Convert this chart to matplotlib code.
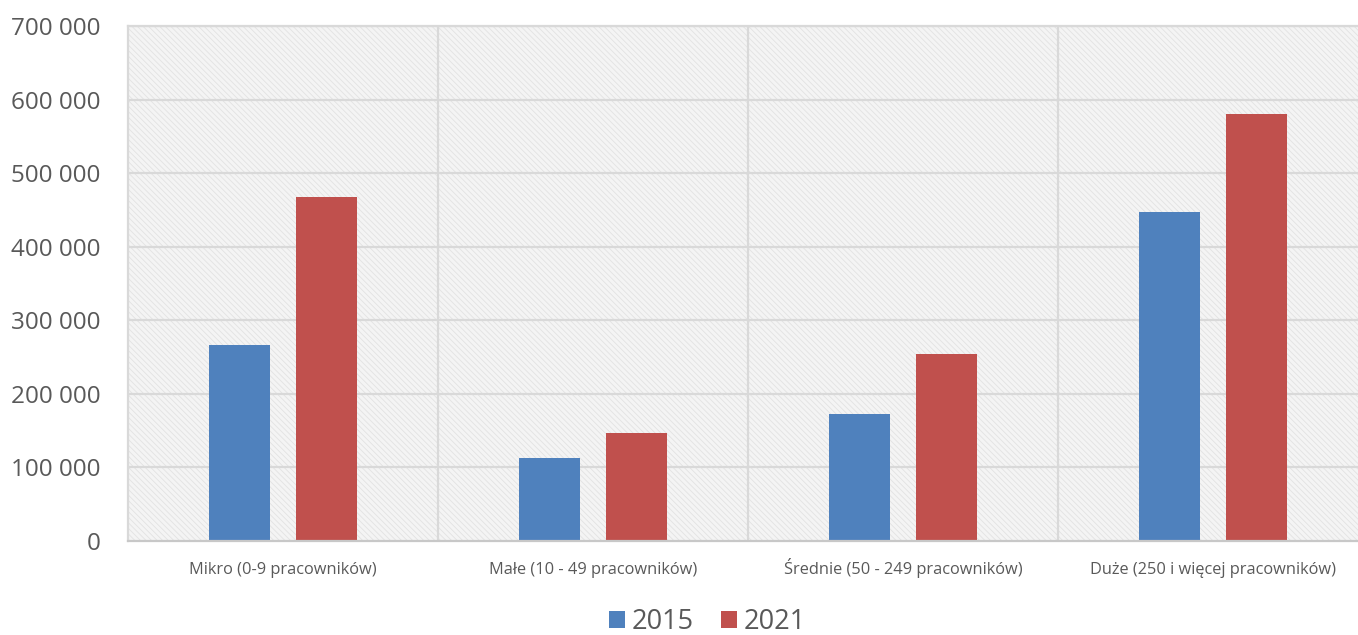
import matplotlib
matplotlib.use("Agg")
import matplotlib.pyplot as plt
from matplotlib.patches import Rectangle
from matplotlib.ticker import FuncFormatter
import numpy as np

categories = [
    "Mikro (0-9 pracowników)",
    "Małe (10 - 49 pracowników)",
    "Średnie (50 - 249 pracowników)",
    "Duże (250 i więcej pracowników)",
]
years = ["2015", "2021"]
values_2015 = [267000, 113000, 173000, 447000]
values_2021 = [467000, 147000, 254000, 580000]
y_ticks = [0, 100000, 200000, 300000, 400000, 500000, 600000, 700000]

blue = "#4f81bd"
red = "#c0504d"
grid_c = "#d9d9d9"
text_c = "#595959"

plt.rcParams["font.family"] = ["Open Sans", "DejaVu Sans"]
plt.rcParams["hatch.color"] = "#e2e2e2"
plt.rcParams["hatch.linewidth"] = 0.6

fig = plt.figure(figsize=(13.58, 6.35), dpi=100)
ax = fig.add_axes([0.0943, 0.148, 0.9131, 0.811])

x = np.arange(len(categories))
w = 0.197
off = 0.14

ax.set_xlim(-0.5, len(categories) - 0.5)
ax.set_ylim(0, 700000)

# hatched plot background
ax.set_facecolor("#f4f4f4")
bg = Rectangle((0, 0), 1, 1, transform=ax.transAxes, facecolor="none",
               edgecolor="#e2e2e2", hatch="\\\\\\\\\\\\", linewidth=0, zorder=0)
ax.add_patch(bg)

# grid
for t in y_ticks[1:]:
    ax.axhline(t, color=grid_c, linewidth=1.6, zorder=1)
for b in np.arange(0.5, len(categories) - 0.5, 1.0):
    ax.axvline(b, color=grid_c, linewidth=1.6, zorder=1)

b1 = ax.bar(x - off, values_2015, width=w, color=blue, label=years[0], zorder=3)
b2 = ax.bar(x + off, values_2021, width=w, color=red, label=years[1], zorder=3)

for side in ["left", "right", "top"]:
    ax.spines[side].set_color(grid_c)
    ax.spines[side].set_linewidth(1.6)
ax.spines["bottom"].set_color("#c8c8c8")
ax.spines["bottom"].set_linewidth(1.6)
ax.spines["bottom"].set_zorder(4)

ax.set_yticks(y_ticks)
ax.yaxis.set_major_formatter(FuncFormatter(lambda v, p: f"{int(v):,}".replace(",", " ")))
ax.tick_params(axis="y", length=0, pad=20, labelsize=17.5, labelcolor=text_c)
ax.set_xticks(x)
ax.set_xticklabels(categories, va="baseline")
ax.tick_params(axis="x", length=0, pad=24, labelsize=11.8, labelcolor=text_c)

leg = fig.legend(handles=[b1, b2], labels=years, loc="center", bbox_to_anchor=(0.521, 0.02),
                 ncol=2, frameon=False, fontsize=19.5, handlelength=0.6, handleheight=0.6,
                 handletextpad=0.25, columnspacing=1.0, labelcolor=text_c)

fig.savefig("out.png", dpi=100, facecolor="white")
